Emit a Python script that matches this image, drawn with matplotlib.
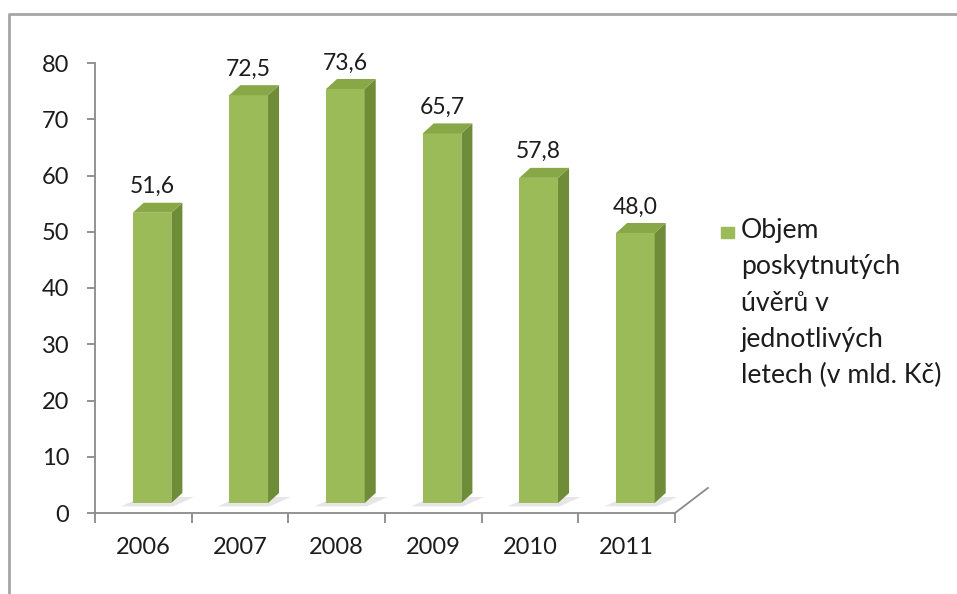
import matplotlib
matplotlib.use("Agg")
import matplotlib.pyplot as plt
from matplotlib.lines import Line2D
from matplotlib.patches import Rectangle

plt.rcParams['font.family'] = ['Lato', 'DejaVu Sans']

years = ['2006', '2007', '2008', '2009', '2010', '2011']
values = [51.6, 72.5, 73.6, 65.7, 57.8, 48.0]
y_ticks = [0, 10, 20, 30, 40, 50, 60, 70, 80]
legend_lines = ['Objem', 'poskytnutých', 'úvěrů v', 'jednotlivých', 'letech (v mld. Kč)']

FRONT = '#9bbb59'
SIDE = '#6f8c38'
TOP = '#88a847'
AXIS = '#8a8a8a'
TEXT = '#1c1c1c'

W, H = 957, 594
fig = plt.figure(figsize=(W / 100, H / 100), dpi=100)
fig.patch.set_facecolor('white')

# plot area placed in pixel terms
x0, x1, y0, y1 = 95, 675, 513, 63
ax = fig.add_axes([x0 / W, 1 - y0 / H, (x1 - x0) / W, (y0 - y1) / H])
ax.set_xlim(0, len(years))
ax.set_ylim(0, 80)
ax.set_facecolor('none')

# 3d-ish offsets (bars sit back from the front edge of the floor)
base = 1.78          # front face lifted off the axis
dx, dy = 0.114, 1.78  # depth vector of the columns
bw = 0.40            # front face width
shift = 0.39         # left edge of the front face inside each category

for i, v in enumerate(values):
    l = i + shift
    r = l + bw
    b = base
    t = base + v
    # floor shadow
    ax.fill([l - 0.12, r + 0.02, r + dx + 0.12, l + dx - 0.02],
            [b - 0.6, b - 0.6, b + dy * 0.6, b + dy * 0.6],
            color='#b8b8b8', alpha=0.35, lw=0, clip_on=False, zorder=1)
    # front
    ax.fill([l, r, r, l], [b, b, t, t], color=FRONT, lw=0, clip_on=False, zorder=3)
    # side
    ax.fill([r, r + dx, r + dx, r], [b, b + dy, t + dy, t],
            color=SIDE, lw=0, clip_on=False, zorder=3)
    # top
    ax.fill([l, r, r + dx, l + dx], [t, t, t + dy, t + dy],
            color=TOP, lw=0, clip_on=False, zorder=3)
    ax.text(l + bw / 2, t + dy + 1.0, f'{v:.1f}'.replace('.', ','),
            ha='center', va='bottom', fontsize=16.5, color=TEXT, zorder=4)

for s in ['top', 'right']:
    ax.spines[s].set_visible(False)
for s in ['left', 'bottom']:
    ax.spines[s].set_color(AXIS)
    ax.spines[s].set_linewidth(1.3)

# floor edge going back into depth
ax.plot([len(years), len(years) + 0.34], [0, 4.45], color=AXIS, lw=1.3,
        clip_on=False, zorder=2)

ax.set_yticks(y_ticks)
ax.set_yticklabels([str(t) for t in y_ticks])
ax.tick_params(axis='y', direction='out', length=6, width=1.3, color=AXIS,
               pad=12.5, labelsize=17, labelcolor=TEXT)

ax.set_xticks(range(len(years) + 1))
ax.set_xticklabels([''] * (len(years) + 1))
ax.set_xticks([i + 0.5 for i in range(len(years))], minor=True)
ax.set_xticklabels(years, minor=True)
ax.tick_params(axis='x', which='major', direction='out', length=7, width=1.3,
               color=AXIS)
ax.tick_params(axis='x', which='minor', length=0, pad=17.5, labelsize=17,
               labelcolor=TEXT)

# legend drawn by hand
fig.patches.append(Rectangle((721 / W, 1 - 238 / H), 13 / W, 11 / H,
                             transform=fig.transFigure, color=FRONT))
for k, line in enumerate(legend_lines):
    fig.text(741 / W, 1 - (238 + 36.3 * k) / H, line, ha='left',
             va='baseline', fontsize=19.2, color=TEXT)

# outer chart frame
fig.lines.append(Line2D([9 / W, 9 / W, 1.0], [0.0, 1 - 14 / H, 1 - 14 / H],
                        transform=fig.transFigure, color='#a6a6a6', lw=2))

fig.savefig('out.png', dpi=100, facecolor='white')
